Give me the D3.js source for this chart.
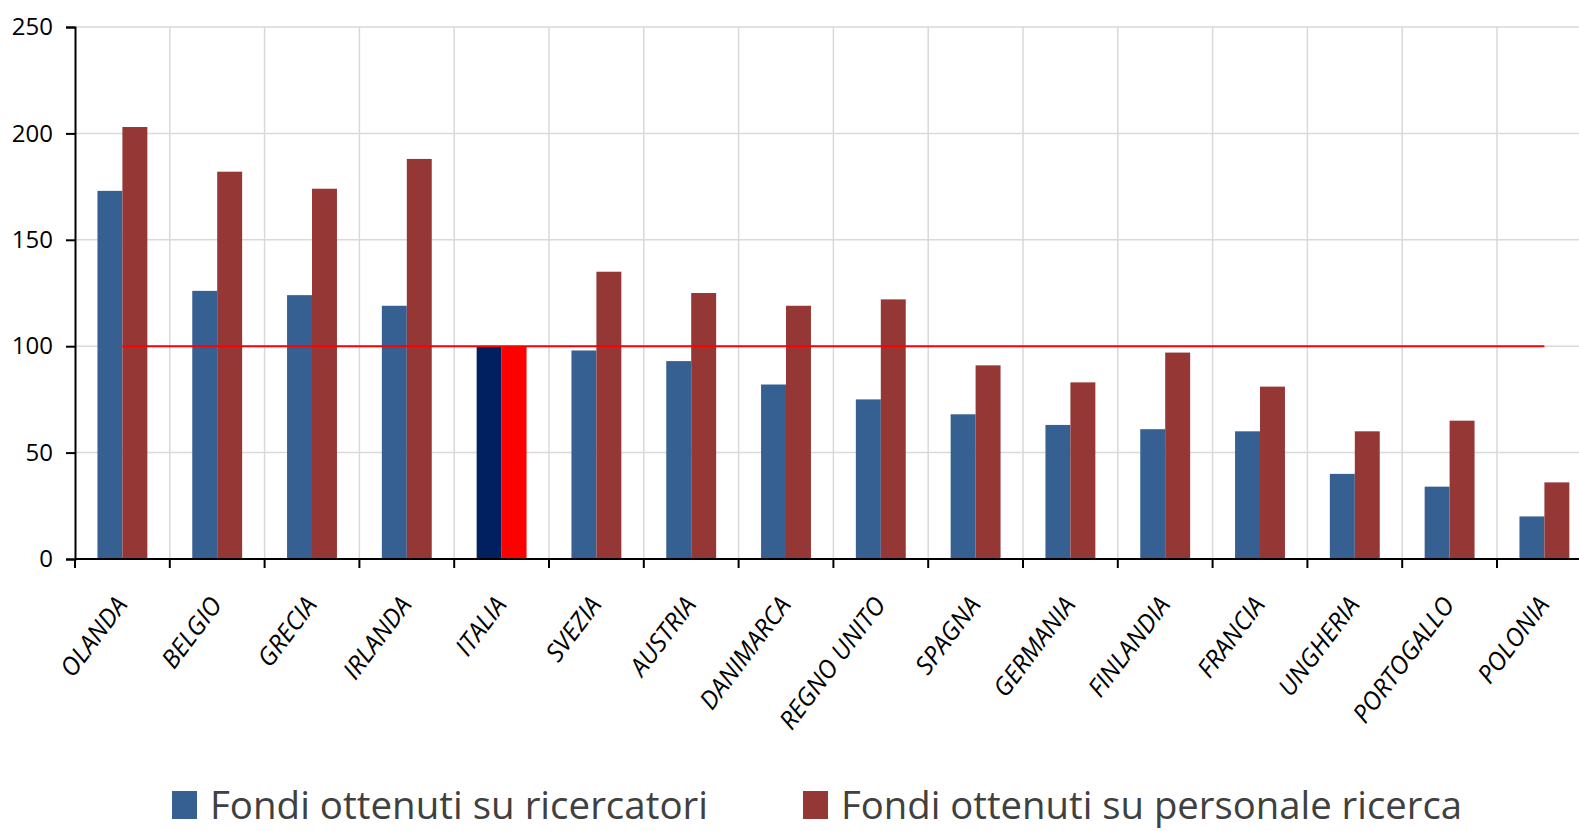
<!DOCTYPE html>
<html>
<head>
<meta charset="utf-8">
<script src="https://cdn.jsdelivr.net/npm/d3@7"></script>
<style>
  body { margin: 0; background: #fff; }
  text { font-family: "Open Sans", sans-serif; }
</style>
</head>
<body>
<div id="chart"></div>
<script>
var svgWidth = 1579;
var svgHeight = 831;

var countries = ['OLANDA', 'BELGIO', 'GRECIA', 'IRLANDA', 'ITALIA', 'SVEZIA', 'AUSTRIA', 'DANIMARCA',
                 'REGNO UNITO', 'SPAGNA', 'GERMANIA', 'FINLANDIA', 'FRANCIA', 'UNGHERIA', 'PORTOGALLO', 'POLONIA'];
var ricercatori = [173, 126, 124, 119, 100, 98, 93, 82, 75, 68, 63, 61, 60, 40, 34, 20];
var personale = [203, 182, 174, 188, 100, 135, 125, 119, 122, 91, 83, 97, 81, 60, 65, 36];
var yTicks = [0, 50, 100, 150, 200, 250];
var seriesNames = ['Fondi ottenuti su ricercatori', 'Fondi ottenuti su personale ricerca'];
var reference = 100;
var highlight = 'ITALIA';

var colors = ['#376092', '#953735'];
var highlightColors = ['#002060', '#ff0000'];

var margin = { top: 27, left: 75, bottom: 272 };
var step = 94.8;
var plotBottom = svgHeight - margin.bottom;

var svg = d3.select('#chart')
            .append('svg')
            .attr('width', svgWidth)
            .attr('height', svgHeight);

// scales
var x = d3.scaleBand()
          .domain(countries)
          .range([margin.left, margin.left + step * countries.length]);

var x1 = d3.scaleBand()
           .domain([0, 1])
           .range([0, x.bandwidth()])
           .paddingOuter(0.9);

var y = d3.scaleLinear()
          .domain([0, 250])
          .range([plotBottom, margin.top]);

// grid
svg.append('g').selectAll('line')
   .data(yTicks).enter()
   .append('line')
   .attr('x1', margin.left).attr('x2', svgWidth)
   .attr('y1', d => y(d)).attr('y2', d => y(d))
   .attr('stroke', '#d9d9d9').attr('stroke-width', 1.5);

var bounds = countries.map(c => x(c)).concat([x.range()[1]]);

svg.append('g').selectAll('line')
   .data(bounds.slice(1)).enter()
   .append('line')
   .attr('x1', d => d).attr('x2', d => d)
   .attr('y1', y(250)).attr('y2', plotBottom)
   .attr('stroke', '#d9d9d9').attr('stroke-width', 1.5);

// bars
var rows = countries.map((c, i) => ({ country: c, values: [ricercatori[i], personale[i]] }));

var groups = svg.append('g').selectAll('g')
   .data(rows).enter()
   .append('g')
   .attr('transform', d => `translate(${x(d.country)},0)`);

groups.selectAll('rect')
   .data(d => d.values.map((v, k) => ({ k: k, v: v, hl: d.country === highlight })))
   .enter()
   .append('rect')
   .attr('x', d => x1(d.k))
   .attr('width', x1.bandwidth())
   .attr('y', d => y(d.v))
   .attr('height', d => plotBottom - y(d.v))
   .attr('fill', d => d.hl ? highlightColors[d.k] : colors[d.k]);

// reference line at 100
svg.append('line')
   .attr('x1', x(countries[0]) + x.bandwidth() / 2)
   .attr('x2', x(countries[countries.length - 1]) + x.bandwidth() / 2)
   .attr('y1', y(reference)).attr('y2', y(reference))
   .attr('stroke', '#ff0000').attr('stroke-width', 2);

// y axis
var yAxis = d3.axisLeft(y).tickValues(yTicks).tickSize(9).tickPadding(13);
var yAxisGroup = svg.append('g')
   .attr('transform', `translate(${margin.left},0)`)
   .call(yAxis);
yAxisGroup.select('.domain').attr('stroke', '#000').attr('stroke-width', 2);
yAxisGroup.selectAll('.tick line').attr('stroke', '#000').attr('stroke-width', 2);
yAxisGroup.selectAll('text')
   .attr('font-size', 24)
   .attr('font-family', '"Open Sans", sans-serif')
   .attr('fill', '#000');

// x axis line and boundary ticks
svg.append('line')
   .attr('x1', margin.left).attr('x2', svgWidth)
   .attr('y1', plotBottom).attr('y2', plotBottom)
   .attr('stroke', '#000').attr('stroke-width', 2);

svg.append('g').selectAll('line')
   .data(bounds).enter()
   .append('line')
   .attr('x1', d => d).attr('x2', d => d)
   .attr('y1', plotBottom).attr('y2', plotBottom + 9)
   .attr('stroke', '#000').attr('stroke-width', 2);

svg.append('g').selectAll('text')
   .data(countries).enter()
   .append('text')
   .attr('transform', d => `translate(${x(d) + x.bandwidth() / 2 + 6},${plotBottom + 46}) rotate(-53)`)
   .attr('text-anchor', 'end')
   .attr('font-size', 25)
   .attr('font-style', 'italic')
   .attr('fill', '#000')
   .text(d => d);

// legend
var legendX = [172, 803];
var legendW = [498, 621];
var legend = svg.append('g').selectAll('g')
   .data(seriesNames).enter()
   .append('g')
   .attr('transform', (d, i) => `translate(${legendX[i]},791)`);

legend.append('rect')
   .attr('width', 25).attr('height', 28)
   .attr('fill', (d, i) => colors[i]);

legend.append('text')
   .attr('x', 38).attr('y', 27.5)
   .attr('font-size', 39)
   .attr('fill', '#404040')
   .attr('textLength', (d, i) => legendW[i])
   .attr('lengthAdjust', 'spacingAndGlyphs')
   .text(d => d);
</script>
</body>
</html>
